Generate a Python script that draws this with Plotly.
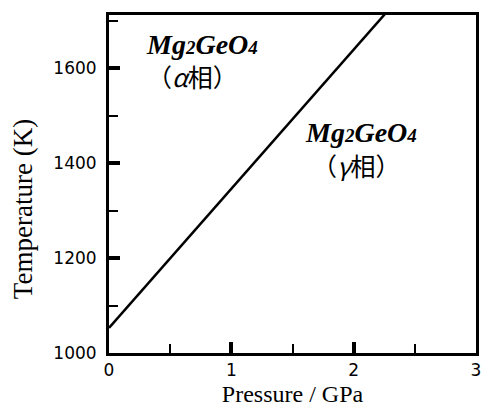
import plotly.graph_objects as go

# Phase boundary line (alpha/gamma Mg2GeO4)
pressure = [0.0, 2.3]          # GPa
temperature = [1053, 1727]     # K

x_ticks = [0, 1, 2, 3]
y_ticks = [1000, 1200, 1400, 1600]

formula = ("<b><i>Mg<span style='font-size:19px'>2</span>"
           "GeO<span style='font-size:19px'>4</span></i></b>")

labels = [
    {"p": 0.76, "t": 1650, "text": formula, "serif": True},
    {"p": 0.68, "t": 1584, "text": "（<i>α</i>相）", "serif": False},
    {"p": 2.06, "t": 1464, "text": formula, "serif": True},
    {"p": 2.02, "t": 1395, "text": "（<i>γ</i>相）", "serif": False},
]

fig = go.Figure()
fig.add_trace(go.Scatter(x=pressure, y=temperature, mode="lines",
                         line=dict(color="black", width=2.5), showlegend=False))

for lb in labels:
    fig.add_annotation(
        x=lb["p"], y=lb["t"], text=lb["text"], showarrow=False,
        xanchor="center", yanchor="middle",
        font=dict(family="Liberation Serif, Times New Roman, serif", size=28, color="black")
        if lb["serif"] else
        dict(family="Noto Sans CJK JP, sans-serif", size=25, color="black"),
    )

# y-axis title drawn as a rotated annotation so that it can sit where the reference has it
fig.add_annotation(
    xref="paper", yref="paper", x=-0.234, y=0.426, text="Temperature (K)",
    xanchor="center", yanchor="middle", textangle=-90, showarrow=False,
    font=dict(family="Liberation Serif, Times New Roman, serif", size=27, color="black"),
)

axis_common = dict(
    showgrid=False, zeroline=False, showline=True, linecolor="black", linewidth=3,
    mirror=True, ticks="inside", ticklen=11, tickwidth=4, tickcolor="black",
    automargin=False, ticklabeloverflow="allow",
    tickfont=dict(family="DejaVu Sans, Verdana, sans-serif", size=17, color="black"),
)

fig.update_xaxes(
    range=[0, 3], tickvals=x_ticks, ticktext=[str(v) for v in x_ticks],
    minor=dict(ticks="inside", ticklen=9, tickwidth=2, dtick=0.5, tickcolor="black"),
    title=dict(text="Pressure / GPa", standoff=6,
               font=dict(family="Liberation Serif, Times New Roman, serif", size=24, color="black")),
    **axis_common,
)
fig.update_yaxes(
    range=[1000, 1712], tickvals=y_ticks, ticktext=[str(v) for v in y_ticks],
    minor=dict(ticks="inside", ticklen=9, tickwidth=2, dtick=100, tickcolor="black"),
    ticklabelstandoff=6,
    **axis_common,
)

fig.update_layout(
    width=481, height=410,
    margin=dict(l=109, r=5, t=15, b=57),
    plot_bgcolor="white", paper_bgcolor="white",
)

fig.write_html("out.html", config={"displayModeBar": False},
               post_script="document.body.style.margin='0px';")
